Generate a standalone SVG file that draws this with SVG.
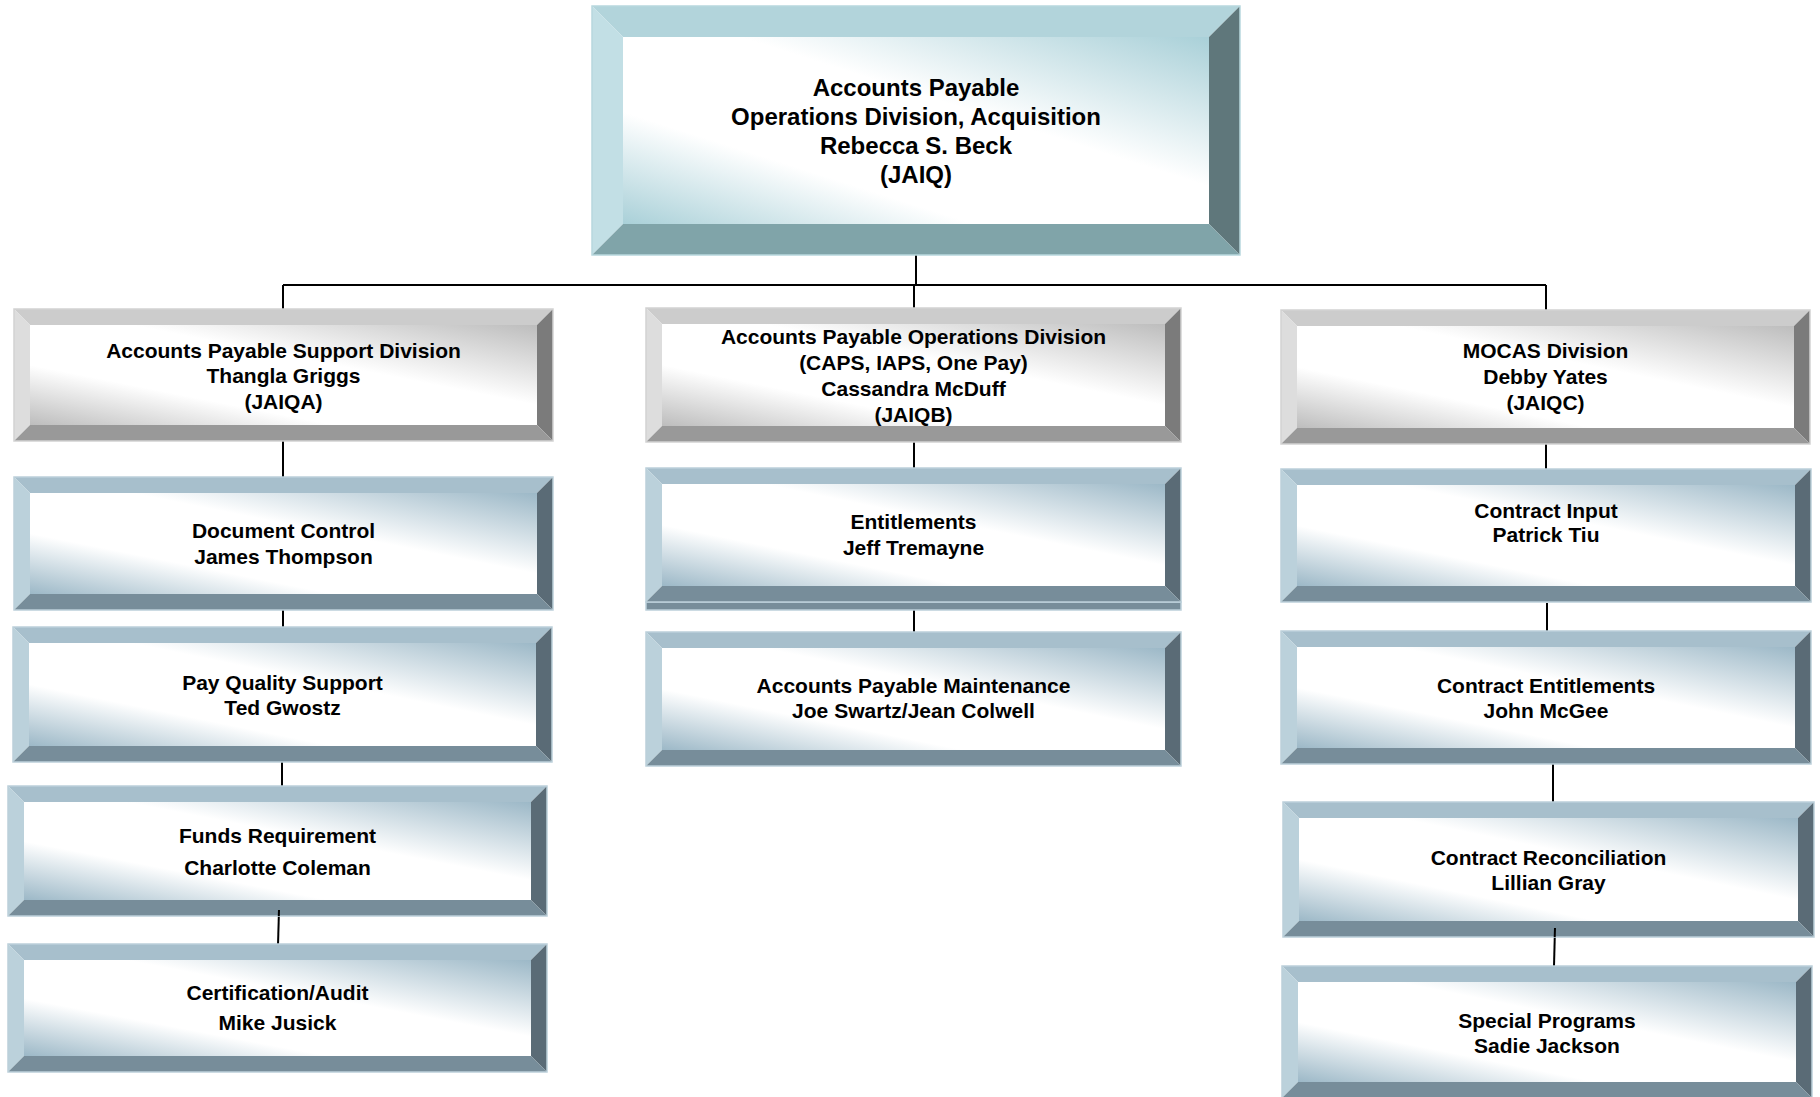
<svg xmlns="http://www.w3.org/2000/svg" width="1820" height="1097" viewBox="0 0 1820 1097">
<defs>
<linearGradient id="gTeal" x1="0" y1="1" x2="1" y2="0">
<stop offset="0" stop-color="#a9d0d8"/><stop offset="0.3" stop-color="#ffffff"/><stop offset="0.6" stop-color="#ffffff"/><stop offset="1" stop-color="#a9d0d8"/>
</linearGradient>
<linearGradient id="gGray" x1="0" y1="1" x2="1" y2="0">
<stop offset="0" stop-color="#bdbdbd"/><stop offset="0.3" stop-color="#ffffff"/><stop offset="0.6" stop-color="#ffffff"/><stop offset="1" stop-color="#bdbdbd"/>
</linearGradient>
<linearGradient id="gBlue" x1="0" y1="1" x2="1" y2="0">
<stop offset="0" stop-color="#9cb8c7"/><stop offset="0.3" stop-color="#ffffff"/><stop offset="0.6" stop-color="#ffffff"/><stop offset="1" stop-color="#9cb8c7"/>
</linearGradient>
</defs>
<style>
text{font-family:"Liberation Sans",Arial,sans-serif;font-weight:bold;fill:#000;text-anchor:middle}
.t24{font-size:24px}
.t21{font-size:21px}
.teal .bt{fill:#b2d4db}.teal .bl{fill:#c2dfe5}.teal .br{fill:#5f777b}.teal .bb{fill:#80a4a9}.teal .face{fill:url(#gTeal)}.teal .edge{fill:none;stroke:#b8d8de;stroke-width:1.5}
.gray .bt{fill:#cccccc}.gray .bl{fill:#dddddd}.gray .br{fill:#7b7b7b}.gray .bb{fill:#999999}.gray .face{fill:url(#gGray)}.gray .edge{fill:none;stroke:#d2d2d2;stroke-width:1.5}
.blue .bt{fill:#a7bfcc}.blue .bl{fill:#bbd1db}.blue .br{fill:#5a6b76}.blue .bb{fill:#778d9a}.blue .face{fill:url(#gBlue)}.blue .edge{fill:none;stroke:#bcd0da;stroke-width:1.5}
.conn path{fill:none;stroke:#000;stroke-width:2}
</style>
<rect x="0" y="0" width="1820" height="1097" fill="#ffffff"/>

<g id="connectors" class="conn">
<path d="M916 255 V285"/>
<path d="M283 285 H1546"/>
<path d="M283 285 V309"/>
<path d="M914 285 V308"/>
<path d="M1546 285 V310"/>
<path d="M283 441 V477"/>
<path d="M283 610 V627"/>
<path d="M282 762 V786"/>
<path d="M279 910 L278 945"/>
<path d="M914 442 V468"/>
<path d="M914 610 V632"/>
<path d="M1546 444 V469"/>
<path d="M1547 603 V631"/>
<path d="M1553 761 V802"/>
<path d="M1555 928 L1554 966"/>
</g>

<g id="node-jaiq" class="teal">
<polygon class="bt" points="592,6 1240,6 1209,37 623,37"/>
<polygon class="bl" points="592,6 623,37 623,224 592,255"/>
<polygon class="br" points="1240,6 1240,255 1209,224 1209,37"/>
<polygon class="bb" points="592,255 623,224 1209,224 1240,255"/>
<rect class="face" x="623" y="37" width="586" height="187"/>
<rect class="edge" x="592" y="6" width="648" height="249"/>
<text class="t24" x="916" y="96">Accounts Payable</text>
<text class="t24" x="916" y="125">Operations Division, Acquisition</text>
<text class="t24" x="916" y="154">Rebecca S. Beck</text>
<text class="t24" x="916" y="183">(JAIQ)</text>
</g>

<g id="node-jaiqa" class="gray">
<polygon class="bt" points="14,309 553,309 537,325 30,325"/>
<polygon class="bl" points="14,309 30,325 30,425 14,441"/>
<polygon class="br" points="553,309 553,441 537,425 537,325"/>
<polygon class="bb" points="14,441 30,425 537,425 553,441"/>
<rect class="face" x="30" y="325" width="507" height="100"/>
<rect class="edge" x="14" y="309" width="539" height="132"/>
<text class="t21" x="283.5" y="358">Accounts Payable Support Division</text>
<text class="t21" x="283.5" y="383">Thangla Griggs</text>
<text class="t21" x="283.5" y="409">(JAIQA)</text>
</g>

<g id="node-jaiqb" class="gray">
<polygon class="bt" points="646,308 1181,308 1165,324 662,324"/>
<polygon class="bl" points="646,308 662,324 662,426 646,442"/>
<polygon class="br" points="1181,308 1181,442 1165,426 1165,324"/>
<polygon class="bb" points="646,442 662,426 1165,426 1181,442"/>
<rect class="face" x="662" y="324" width="503" height="102"/>
<rect class="edge" x="646" y="308" width="535" height="134"/>
<text class="t21" x="913.5" y="344">Accounts Payable Operations Division</text>
<text class="t21" x="913.5" y="370">(CAPS, IAPS, One Pay)</text>
<text class="t21" x="913.5" y="396">Cassandra McDuff</text>
<text class="t21" x="913.5" y="422">(JAIQB)</text>
</g>

<g id="node-jaiqc" class="gray">
<polygon class="bt" points="1281,310 1810,310 1794,326 1297,326"/>
<polygon class="bl" points="1281,310 1297,326 1297,428 1281,444"/>
<polygon class="br" points="1810,310 1810,444 1794,428 1794,326"/>
<polygon class="bb" points="1281,444 1297,428 1794,428 1810,444"/>
<rect class="face" x="1297" y="326" width="497" height="102"/>
<rect class="edge" x="1281" y="310" width="529" height="134"/>
<text class="t21" x="1545.5" y="358">MOCAS Division</text>
<text class="t21" x="1545.5" y="384">Debby Yates</text>
<text class="t21" x="1545.5" y="410">(JAIQC)</text>
</g>

<g id="node-document-control" class="blue">
<polygon class="bt" points="14,477 553,477 537,493 30,493"/>
<polygon class="bl" points="14,477 30,493 30,594 14,610"/>
<polygon class="br" points="553,477 553,610 537,594 537,493"/>
<polygon class="bb" points="14,610 30,594 537,594 553,610"/>
<rect class="face" x="30" y="493" width="507" height="101"/>
<rect class="edge" x="14" y="477" width="539" height="133"/>
<text class="t21" x="283.5" y="538">Document Control</text>
<text class="t21" x="283.5" y="564">James Thompson</text>
</g>

<g id="node-pay-quality" class="blue">
<polygon class="bt" points="13,627 552,627 536,643 29,643"/>
<polygon class="bl" points="13,627 29,643 29,746 13,762"/>
<polygon class="br" points="552,627 552,762 536,746 536,643"/>
<polygon class="bb" points="13,762 29,746 536,746 552,762"/>
<rect class="face" x="29" y="643" width="507" height="103"/>
<rect class="edge" x="13" y="627" width="539" height="135"/>
<text class="t21" x="282.5" y="690">Pay Quality Support</text>
<text class="t21" x="282.5" y="715">Ted Gwostz</text>
</g>

<g id="node-funds" class="blue">
<polygon class="bt" points="8,786 547,786 531,802 24,802"/>
<polygon class="bl" points="8,786 24,802 24,900 8,916"/>
<polygon class="br" points="547,786 547,916 531,900 531,802"/>
<polygon class="bb" points="8,916 24,900 531,900 547,916"/>
<rect class="face" x="24" y="802" width="507" height="98"/>
<rect class="edge" x="8" y="786" width="539" height="130"/>
<text class="t21" x="277.5" y="843">Funds Requirement</text>
<text class="t21" x="277.5" y="875">Charlotte Coleman</text>
</g>

<g id="node-certification" class="blue">
<polygon class="bt" points="8,944 547,944 531,960 24,960"/>
<polygon class="bl" points="8,944 24,960 24,1056 8,1072"/>
<polygon class="br" points="547,944 547,1072 531,1056 531,960"/>
<polygon class="bb" points="8,1072 24,1056 531,1056 547,1072"/>
<rect class="face" x="24" y="960" width="507" height="96"/>
<rect class="edge" x="8" y="944" width="539" height="128"/>
<text class="t21" x="277.5" y="1000">Certification/Audit</text>
<text class="t21" x="277.5" y="1030">Mike Jusick</text>
</g>

<g id="node-entitlements" class="blue">
<rect class="bb" x="646" y="602" width="535" height="8"/>
<rect class="edge" x="646" y="602" width="535" height="8"/>
<polygon class="bt" points="646,468 1181,468 1165,484 662,484"/>
<polygon class="bl" points="646,468 662,484 662,586 646,602"/>
<polygon class="br" points="1181,468 1181,602 1165,586 1165,484"/>
<polygon class="bb" points="646,602 662,586 1165,586 1181,602"/>
<rect class="face" x="662" y="484" width="503" height="102"/>
<rect class="edge" x="646" y="468" width="535" height="134"/>
<text class="t21" x="913.5" y="529">Entitlements</text>
<text class="t21" x="913.5" y="555">Jeff Tremayne</text>
</g>

<g id="node-ap-maintenance" class="blue">
<polygon class="bt" points="646,632 1181,632 1165,648 662,648"/>
<polygon class="bl" points="646,632 662,648 662,750 646,766"/>
<polygon class="br" points="1181,632 1181,766 1165,750 1165,648"/>
<polygon class="bb" points="646,766 662,750 1165,750 1181,766"/>
<rect class="face" x="662" y="648" width="503" height="102"/>
<rect class="edge" x="646" y="632" width="535" height="134"/>
<text class="t21" x="913.5" y="693">Accounts Payable Maintenance</text>
<text class="t21" x="913.5" y="718">Joe Swartz/Jean Colwell</text>
</g>

<g id="node-contract-input" class="blue">
<polygon class="bt" points="1281,469 1811,469 1795,485 1297,485"/>
<polygon class="bl" points="1281,469 1297,485 1297,586 1281,602"/>
<polygon class="br" points="1811,469 1811,602 1795,586 1795,485"/>
<polygon class="bb" points="1281,602 1297,586 1795,586 1811,602"/>
<rect class="face" x="1297" y="485" width="498" height="101"/>
<rect class="edge" x="1281" y="469" width="530" height="133"/>
<text class="t21" x="1546" y="518">Contract Input</text>
<text class="t21" x="1546" y="542">Patrick Tiu</text>
</g>

<g id="node-contract-entitlements" class="blue">
<polygon class="bt" points="1281,631 1811,631 1795,647 1297,647"/>
<polygon class="bl" points="1281,631 1297,647 1297,748 1281,764"/>
<polygon class="br" points="1811,631 1811,764 1795,748 1795,647"/>
<polygon class="bb" points="1281,764 1297,748 1795,748 1811,764"/>
<rect class="face" x="1297" y="647" width="498" height="101"/>
<rect class="edge" x="1281" y="631" width="530" height="133"/>
<text class="t21" x="1546" y="693">Contract Entitlements</text>
<text class="t21" x="1546" y="718">John McGee</text>
</g>

<g id="node-contract-reconciliation" class="blue">
<polygon class="bt" points="1283,802 1814,802 1798,818 1299,818"/>
<polygon class="bl" points="1283,802 1299,818 1299,921 1283,937"/>
<polygon class="br" points="1814,802 1814,937 1798,921 1798,818"/>
<polygon class="bb" points="1283,937 1299,921 1798,921 1814,937"/>
<rect class="face" x="1299" y="818" width="499" height="103"/>
<rect class="edge" x="1283" y="802" width="531" height="135"/>
<text class="t21" x="1548.5" y="865">Contract Reconciliation</text>
<text class="t21" x="1548.5" y="890">Lillian Gray</text>
</g>

<g id="node-special-programs" class="blue">
<polygon class="bt" points="1282,966 1812,966 1796,982 1298,982"/>
<polygon class="bl" points="1282,966 1298,982 1298,1082 1282,1098"/>
<polygon class="br" points="1812,966 1812,1098 1796,1082 1796,982"/>
<polygon class="bb" points="1282,1098 1298,1082 1796,1082 1812,1098"/>
<rect class="face" x="1298" y="982" width="498" height="100"/>
<rect class="edge" x="1282" y="966" width="530" height="132"/>
<text class="t21" x="1547" y="1028">Special Programs</text>
<text class="t21" x="1547" y="1053">Sadie Jackson</text>
</g>

<path d="M1555 928 L1554.7 937" fill="none" stroke="#000" stroke-width="2"/>
<path d="M279 910 L278.8 916" fill="none" stroke="#000" stroke-width="2"/>
</svg>
